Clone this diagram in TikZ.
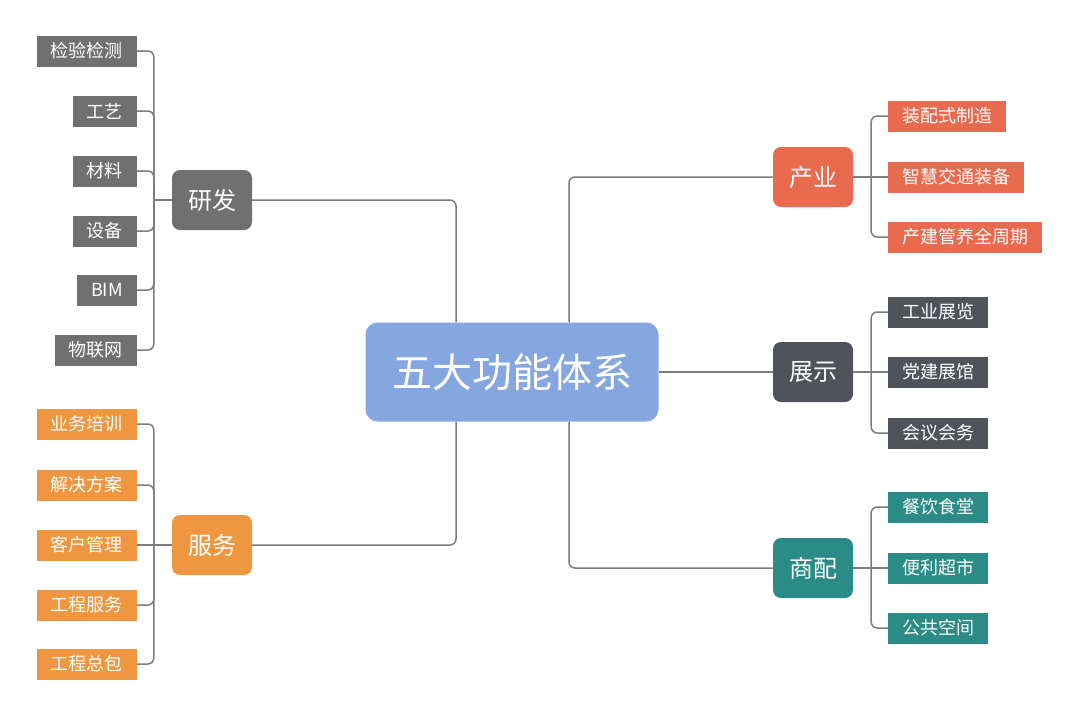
\documentclass[tikz,border=0pt]{standalone}
\usepackage{fontspec}
\setmainfont{Noto Sans CJK SC}
\usetikzlibrary{calc}

\definecolor{coreblue}{RGB}{134,166,224}
\definecolor{rdgray}{RGB}{112,112,112}
\definecolor{svorange}{RGB}{239,150,64}
\definecolor{indred}{RGB}{232,107,80}
\definecolor{showdark}{RGB}{80,84,90}
\definecolor{shopteal}{RGB}{43,140,135}
\definecolor{linegray}{RGB}{125,125,125}

\begin{document}
\begin{tikzpicture}[x=1pt, y=-1pt,
  core/.style={fill=coreblue, rounded corners=12pt, minimum width=293pt, minimum height=99pt,
    inner sep=0pt, text=white, font=\fontsize{40}{40}\selectfont},
  branch/.style={rounded corners=8pt, minimum width=80pt, minimum height=60pt,
    inner sep=0pt, text=white, font=\fontsize{24}{24}\selectfont},
  leaf/.style={minimum height=31pt, inner xsep=14pt, inner ysep=0pt,
    text=white, font=\fontsize{18}{18}\selectfont},
  lleaf/.style={leaf, anchor=east},
  rleaf/.style={leaf, anchor=west},
  link/.style={draw=linegray, line width=1.5pt, rounded corners=6pt}
]
  \useasboundingbox (0,0) rectangle (1080,716);

  % Central node
  \node[core] (core) at (512,372) {五大功能体系};

  % Branch nodes
  \node[branch, fill=rdgray] (yanfa) at (212,200) {研发};
  \node[branch, fill=svorange] (fuwu) at (212,545) {服务};
  \node[branch, fill=indred] (chanye) at (813,177) {产业};
  \node[branch, fill=showdark] (zhanshi) at (813,372) {展示};
  \node[branch, fill=shopteal] (shangpei) at (813,568) {商配};

  % Leaves of 研发
  \node[lleaf, fill=rdgray] (jianyan) at (137,51) {检验检测};
  \node[lleaf, fill=rdgray] (gongyi) at (137,111) {工艺};
  \node[lleaf, fill=rdgray] (cailiao) at (137,171) {材料};
  \node[lleaf, fill=rdgray] (shebei) at (137,231) {设备};
  \node[lleaf, fill=rdgray] (bim) at (137,290) {BIM};
  \node[lleaf, fill=rdgray] (wulian) at (137,350) {物联网};

  % Leaves of 服务
  \node[lleaf, fill=svorange] (peixun) at (137,424) {业务培训};
  \node[lleaf, fill=svorange] (fangan) at (137,485) {解决方案};
  \node[lleaf, fill=svorange] (kehu) at (137,545) {客户管理};
  \node[lleaf, fill=svorange] (gcfuwu) at (137,605) {工程服务};
  \node[lleaf, fill=svorange] (zongbao) at (137,664) {工程总包};

  % Leaves of 产业
  \node[rleaf, fill=indred] (zhuangpei) at (888,116) {装配式制造};
  \node[rleaf, fill=indred] (jiaotong) at (888,177) {智慧交通装备};
  \node[rleaf, fill=indred] (zhouqi) at (888,237) {产建管养全周期};

  % Leaves of 展示
  \node[rleaf, fill=showdark] (zhanlan) at (888,312) {工业展览};
  \node[rleaf, fill=showdark] (dangjian) at (888,372) {党建展馆};
  \node[rleaf, fill=showdark] (huiyi) at (888,433) {会议会务};

  % Leaves of 商配
  \node[rleaf, fill=shopteal] (canyin) at (888,507) {餐饮食堂};
  \node[rleaf, fill=shopteal] (chaoshi) at (888,568) {便利超市};
  \node[rleaf, fill=shopteal] (kongjian) at (888,628) {公共空间};

  % Helper coordinates on the central node and the brackets
  \coordinate (core-tl) at ($(core.north)+(-56,0)$);
  \coordinate (core-tr) at ($(core.north)+(57,0)$);
  \coordinate (core-bl) at ($(core.south)+(-56,0)$);
  \coordinate (core-br) at ($(core.south)+(57,0)$);
  \coordinate (yanfa-j) at ($(yanfa.west)+(-18,0)$);
  \coordinate (fuwu-j) at ($(fuwu.west)+(-18,0)$);
  \coordinate (chanye-j) at ($(chanye.east)+(18,0)$);
  \coordinate (zhanshi-j) at ($(zhanshi.east)+(18,0)$);
  \coordinate (shangpei-j) at ($(shangpei.east)+(18,0)$);

  % Central node to branches
  \draw[link] (yanfa.east) -| (core-tl);
  \draw[link] (fuwu.east) -| (core-bl);
  \draw[link] (chanye.west) -| (core-tr);
  \draw[link] (core.east) -- (zhanshi.west);
  \draw[link] (shangpei.west) -| (core-br);

  % Brackets of 研发
  \draw[link] (yanfa.west) -- (yanfa-j);
  \draw[link] (yanfa-j) |- (jianyan.east);
  \draw[link] (yanfa-j) |- (gongyi.east);
  \draw[link] (yanfa-j) |- (cailiao.east);
  \draw[link] (yanfa-j) |- (shebei.east);
  \draw[link] (yanfa-j) |- (bim.east);
  \draw[link] (yanfa-j) |- (wulian.east);

  % Brackets of 服务
  \draw[link] (fuwu.west) -- (fuwu-j);
  \draw[link] (fuwu-j) |- (peixun.east);
  \draw[link] (fuwu-j) |- (fangan.east);
  \draw[link] (fuwu-j) -- (kehu.east);
  \draw[link] (fuwu-j) |- (gcfuwu.east);
  \draw[link] (fuwu-j) |- (zongbao.east);

  % Brackets of 产业
  \draw[link] (chanye.east) -- (chanye-j);
  \draw[link] (chanye-j) |- (zhuangpei.west);
  \draw[link] (chanye-j) -- (jiaotong.west);
  \draw[link] (chanye-j) |- (zhouqi.west);

  % Brackets of 展示
  \draw[link] (zhanshi.east) -- (zhanshi-j);
  \draw[link] (zhanshi-j) |- (zhanlan.west);
  \draw[link] (zhanshi-j) -- (dangjian.west);
  \draw[link] (zhanshi-j) |- (huiyi.west);

  % Brackets of 商配
  \draw[link] (shangpei.east) -- (shangpei-j);
  \draw[link] (shangpei-j) |- (canyin.west);
  \draw[link] (shangpei-j) -- (chaoshi.west);
  \draw[link] (shangpei-j) |- (kongjian.west);

\end{tikzpicture}
\end{document}
